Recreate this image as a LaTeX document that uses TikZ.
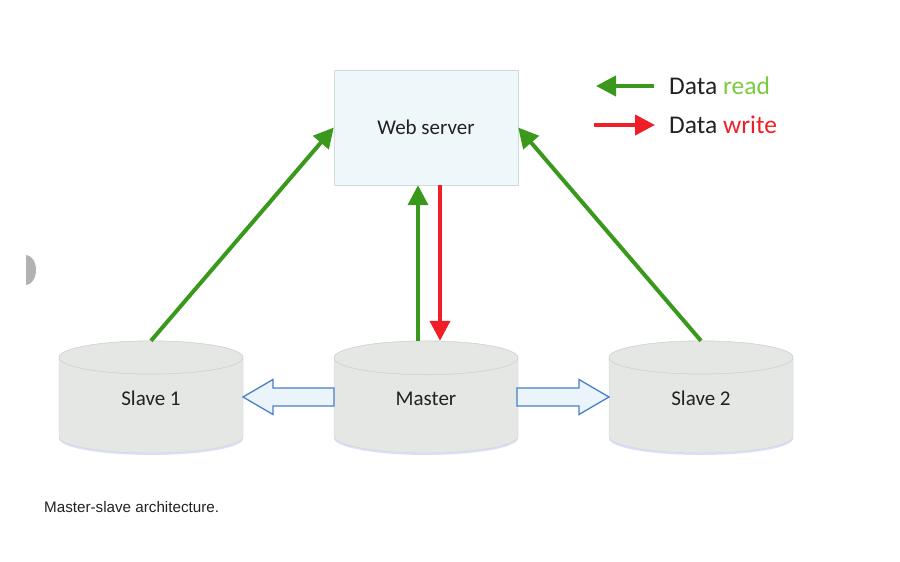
\documentclass[tikz,border=0pt]{standalone}
\usepackage{fontspec}
\setmainfont{Carlito}
\newfontfamily\captionfont{Liberation Sans}
\usetikzlibrary{arrows.meta,shapes.geometric,calc}
\definecolor{dbgray}{RGB}{228,231,227}
\definecolor{dbedge}{RGB}{208,212,207}
\definecolor{webfill}{RGB}{238,247,250}
\definecolor{webedge}{RGB}{208,218,216}
\definecolor{readgreen}{RGB}{58,153,28}
\definecolor{readlight}{RGB}{120,204,62}
\definecolor{writered}{RGB}{240,30,38}
\definecolor{copyblue}{RGB}{74,127,200}
\definecolor{copyfill}{RGB}{234,244,250}
\definecolor{inkgray}{RGB}{34,34,34}
\begin{document}
\begin{tikzpicture}[
  x=1pt,y=1pt,
  server/.style={draw=webedge,fill=webfill,minimum width=184pt,minimum height=115pt,
    font=\fontsize{21}{24}\selectfont,text=inkgray},
  db/.style={cylinder,shape border rotate=90,aspect=0.5,draw=dbedge,fill=dbgray,
    minimum width=184pt,minimum height=112pt,font=\fontsize{21}{24}\selectfont,text=inkgray,
    text height=14pt,text depth=18pt,anchor=shape center,
    preaction={fill=copyfill!60!blue!30,transform canvas={yshift=-2pt}}},
  readarr/.style={-{Triangle[length=20pt,width=20pt]},line width=4pt,draw=readgreen},
  writearr/.style={-{Triangle[length=20pt,width=20pt]},line width=4pt,draw=writered},
  copyarr/.style={draw=copyblue,fill=copyfill,line width=1.3pt,line join=miter},
  legend/.style={anchor=west,font=\fontsize{25.5}{28}\selectfont,text=inkgray,inner sep=0pt}
]
\useasboundingbox (0,0) rectangle (900,562);
% nodes
\node[server] (web) at (426,434.5) {Web server};
\node[db] (slaveone) at (151,165) {Slave 1};
\node[db] (master) at (426,165) {Master};
\node[db] (slavetwo) at (701,165) {Slave 2};
% front rim of each top
\foreach \db in {slaveone,master,slavetwo}
  \draw[dbedge] let \p1=(\db.before top), \p2=(\db.top) in
    ($(\db.before top)!0.5!(\db.after top)$) ellipse[x radius=92pt, y radius={\y2-\y1}];
% reads and writes
\draw[readarr] (slaveone.north) -- (web.west);
\draw[readarr] (slavetwo.north) -- (web.east);
\draw[readarr] ([xshift=-8pt]master.north) -- ([xshift=-8pt]web.south);
\draw[writearr] ([xshift=14pt]web.south) -- ([xshift=14pt]master.north);
% replication
\draw[copyarr] ($(master.shape center)+(-92,9)$) -- ($(slaveone.shape center)+(122,9)$)
  -- ($(slaveone.shape center)+(122,17.5)$) -- ($(slaveone.shape center)+(92,0)$)
  -- ($(slaveone.shape center)+(122,-17.5)$) -- ($(slaveone.shape center)+(122,-9)$)
  -- ($(master.shape center)+(-92,-9)$) -- cycle;
\draw[copyarr] ($(master.shape center)+(91,9)$) -- ($(slavetwo.shape center)+(-122,9)$)
  -- ($(slavetwo.shape center)+(-122,17.5)$) -- ($(slavetwo.shape center)+(-92,0)$)
  -- ($(slavetwo.shape center)+(-122,-17.5)$) -- ($(slavetwo.shape center)+(-122,-9)$)
  -- ($(master.shape center)+(91,-9)$) -- cycle;
% legend
\node[legend] (readlbl) at (669,476) {Data \textcolor{readlight}{read}};
\node[legend] (writelbl) at (669,437) {Data \textcolor{writered}{write}};
\coordinate (readend) at (596,476);
\coordinate (writestart) at (594,437);
\draw[readarr] ([xshift=-15pt]readlbl.west) -- (readend);
\draw[writearr] (writestart) -- ([xshift=-14pt]writelbl.west);
% caption and margin mark
\node[anchor=west,inner sep=0pt,font=\captionfont\fontsize{15.2}{17}\selectfont,text=inkgray]
  (caption) at (44,55) {Master-slave architecture.};
\fill[gray!60] (26,307) arc[start angle=90,end angle=-90,x radius=10,y radius=15] -- cycle;
\end{tikzpicture}
\end{document}
